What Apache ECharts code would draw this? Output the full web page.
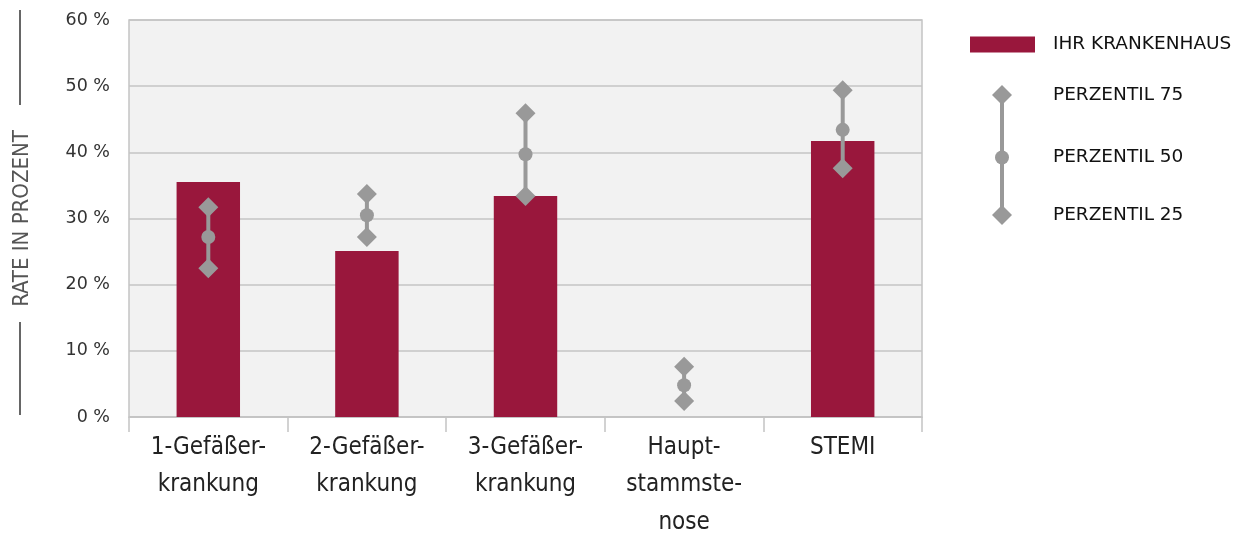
<!DOCTYPE html>
<html>
<head>
<meta charset="utf-8">
<script src="https://cdn.jsdelivr.net/npm/echarts@6/dist/echarts.min.js"></script>
<style>
html,body{margin:0;padding:0;background:#fff;}
#chart{width:1236px;height:535px;}
</style>
</head>
<body>
<div id="chart"></div>
<script>
const categories = ['1-Gefäßer-\nkrankung', '2-Gefäßer-\nkrankung', '3-Gefäßer-\nkrankung', 'Haupt-\nstammste-\nnose', 'STEMI'];
const hospital = [35.5, 25.1, 33.4, null, 41.7];
const p75 = [31.7, 33.7, 45.9, 7.6, 49.4];
const p50 = [27.2, 30.5, 39.7, 4.8, 43.4];
const p25 = [22.5, 27.2, 33.4, 2.4, 37.6];
const yTicks = [0, 10, 20, 30, 40, 50, 60];

const BAR = '#99173c';
const GREY = '#999999';
const FONT = 'DejaVu Sans';
const COND = 'DejaVu Sans Condensed';

const chart = echarts.init(document.getElementById('chart'));
const legendText = {fontFamily: FONT, fontSize: 18.5, color: '#111'};

chart.setOption({
  animation: false,
  grid: {left: 129, right: 314, top: 20, bottom: 118, show: true, outerBoundsMode: 'none', containLabel: false,
         backgroundColor: '#f2f2f2', borderColor: '#c4c4c4', borderWidth: 1.5},
  legend: [
    {data: [{name: 'IHR KRANKENHAUS', icon: 'rect'}], left: 965, top: 30, itemWidth: 65, itemHeight: 16,
     textStyle: Object.assign({padding: [0, 0, 0, 13]}, legendText)},
    {data: ['PERZENTIL 75'], left: 987, top: 80, itemWidth: 20, itemHeight: 20,
     textStyle: Object.assign({padding: [0, 0, 0, 36]}, legendText)},
    {data: ['PERZENTIL 50'], left: 990, top: 143, itemWidth: 14, itemHeight: 14,
     textStyle: Object.assign({padding: [0, 0, 0, 39]}, legendText)},
    {data: ['PERZENTIL 25'], left: 987, top: 200, itemWidth: 20, itemHeight: 20,
     textStyle: Object.assign({padding: [0, 0, 0, 36]}, legendText)}
  ],
  graphic: [
    {type: 'line', z: 0, shape: {x1: 1002, y1: 95, x2: 1002, y2: 215}, style: {stroke: GREY, lineWidth: 4}},
    {type: 'line', shape: {x1: 20, y1: 10, x2: 20, y2: 105}, style: {stroke: '#666', lineWidth: 2}},
    {type: 'line', shape: {x1: 20, y1: 322, x2: 20, y2: 415}, style: {stroke: '#666', lineWidth: 2}}
  ],
  xAxis: {
    type: 'category', data: categories,
    axisLine: {lineStyle: {color: '#c4c4c4', width: 1.5}},
    axisTick: {show: true, length: 15, lineStyle: {color: '#c4c4c4', width: 1.5}},
    axisLabel: {fontFamily: COND, fontSize: 24, lineHeight: 37.5, color: '#222', margin: 12, interval: 0}
  },
  yAxis: {
    type: 'value', min: yTicks[0], max: yTicks[yTicks.length - 1], interval: 10,
    name: 'RATE IN PROZENT', nameLocation: 'middle', nameRotate: 90, nameGap: 96,
    nameTextStyle: {fontFamily: COND, fontSize: 22, color: '#555'},
    axisLine: {show: false}, axisTick: {show: false},
    axisLabel: {formatter: '{value} %', fontFamily: FONT, fontSize: 17.5, color: '#333', margin: 19},
    splitLine: {lineStyle: {color: '#c4c4c4', width: 1.5}}
  },
  series: [
    {name: 'IHR KRANKENHAUS', type: 'bar', data: hospital, barWidth: '40%', itemStyle: {color: BAR}, z: 2},
    {name: 'range', type: 'custom', z: 3, silent: true,
     data: categories.map((c, i) => [i, p25[i], p75[i]]),
     encode: {x: 0, y: [1, 2]},
     renderItem: function (params, api) {
       const a = api.coord([api.value(0), api.value(1)]);
       const b = api.coord([api.value(0), api.value(2)]);
       return {type: 'line', shape: {x1: a[0], y1: a[1], x2: b[0], y2: b[1]},
               style: {stroke: GREY, lineWidth: 4}};
     }},
    {name: 'PERZENTIL 75', type: 'scatter', data: p75, symbol: 'diamond', symbolSize: 20, itemStyle: {color: GREY, opacity: 1}, z: 4},
    {name: 'PERZENTIL 50', type: 'scatter', data: p50, symbol: 'circle', symbolSize: 14, itemStyle: {color: GREY, opacity: 1}, z: 4},
    {name: 'PERZENTIL 25', type: 'scatter', data: p25, symbol: 'diamond', symbolSize: 20, itemStyle: {color: GREY, opacity: 1}, z: 4}
  ]
});
</script>
</body>
</html>
